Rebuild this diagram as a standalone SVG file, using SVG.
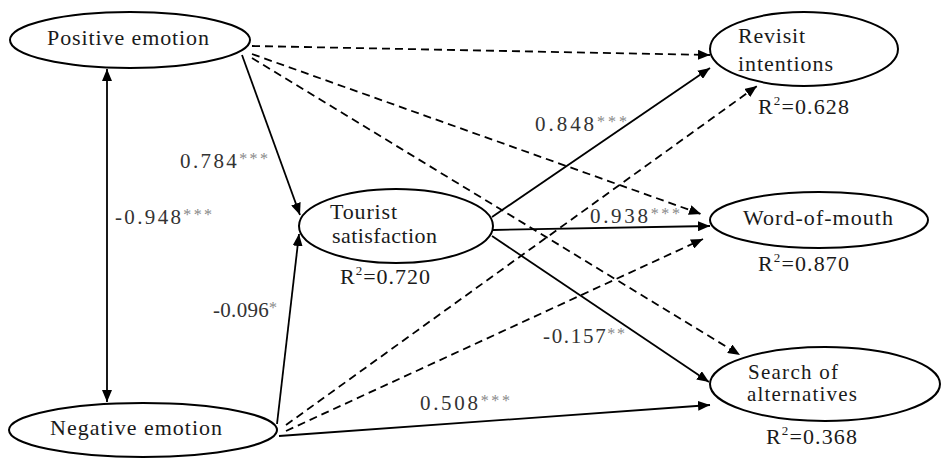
<svg xmlns="http://www.w3.org/2000/svg" width="942" height="458" viewBox="0 0 942 458">
<defs>
<marker id="ah" viewBox="0 0 12 10" refX="12" refY="5" markerWidth="12" markerHeight="10" markerUnits="userSpaceOnUse" orient="auto-start-reverse">
<path d="M0,0 L12,5 L0,10 z" fill="#000"/>
</marker>
<style>
.node ellipse{fill:#fff;stroke:#000;stroke-width:2}
.nt{font-family:"Liberation Serif","Times New Roman",serif;font-size:22px;fill:#1a1a1a}
.r2{font-family:"Liberation Serif","Times New Roman",serif;font-size:22px;fill:#1a1a1a}
.lb{font-family:"Liberation Serif","Times New Roman",serif;font-size:21px;fill:#333}
.st{fill:#888;font-size:16px}
.sol{fill:none;stroke:#000;stroke-width:1.8;marker-end:url(#ah)}
.dsh{fill:none;stroke:#000;stroke-width:1.8;stroke-dasharray:8 5;marker-end:url(#ah)}
</style>
</defs>
<rect width="942" height="458" fill="#fff"/>
<g id="connectors">
<line class="sol" x1="107" y1="69" x2="107" y2="402" style="marker-start:url(#ah)"/>
<line class="sol" x1="242" y1="55" x2="300" y2="215"/>
<line class="sol" x1="277" y1="424" x2="299" y2="234"/>
<line class="dsh" x1="252" y1="46" x2="710" y2="55"/>
<line class="dsh" x1="252" y1="54" x2="701" y2="214"/>
<line class="dsh" x1="252" y1="58" x2="740" y2="355"/>
<line class="sol" x1="492" y1="217" x2="710" y2="68"/>
<line class="sol" x1="493" y1="230" x2="710" y2="226"/>
<line class="sol" x1="492" y1="236" x2="709" y2="382"/>
<line class="sol" x1="279" y1="436" x2="710" y2="405"/>
<line class="dsh" x1="286" y1="425" x2="757" y2="86"/>
<line class="dsh" x1="286" y1="431" x2="703" y2="239"/>
</g>
<g id="positive-emotion" class="node">
<ellipse cx="130" cy="40" rx="120" ry="28"/>
<text class="nt" x="47" y="45" textLength="162" lengthAdjust="spacing">Positive emotion</text>
</g>
<g id="negative-emotion" class="node">
<ellipse cx="143" cy="430" rx="134" ry="27"/>
<text class="nt" x="50" y="435" textLength="172" lengthAdjust="spacing">Negative emotion</text>
</g>
<g id="tourist-satisfaction" class="node">
<ellipse cx="396" cy="226" rx="97" ry="37"/>
<text class="nt" x="330" y="219" textLength="67" lengthAdjust="spacing">Tourist</text>
<text class="nt" x="332" y="243" textLength="105" lengthAdjust="spacing">satisfaction</text>
<text class="r2" x="340" y="284" textLength="90" lengthAdjust="spacing">R<tspan dy="-9" font-size="13">2</tspan><tspan dy="9">=0.720</tspan></text>
</g>
<g id="revisit-intentions" class="node">
<ellipse cx="804" cy="49" rx="94" ry="37"/>
<text class="nt" x="738" y="43" textLength="67" lengthAdjust="spacing">Revisit</text>
<text class="nt" x="738" y="71" textLength="95" lengthAdjust="spacing">intentions</text>
<text class="r2" x="758" y="114" textLength="91" lengthAdjust="spacing">R<tspan dy="-9" font-size="13">2</tspan><tspan dy="9">=0.628</tspan></text>
</g>
<g id="word-of-mouth" class="node">
<ellipse cx="819" cy="220" rx="109" ry="28"/>
<text class="nt" x="743" y="225" textLength="150" lengthAdjust="spacing">Word-of-mouth</text>
<text class="r2" x="758" y="271" textLength="91" lengthAdjust="spacing">R<tspan dy="-9" font-size="13">2</tspan><tspan dy="9">=0.870</tspan></text>
</g>
<g id="search-of-alternatives" class="node">
<ellipse cx="825" cy="384" rx="115" ry="37"/>
<text class="nt" x="748" y="379" textLength="90" lengthAdjust="spacing" style="font-size:21px">Search of</text>
<text class="nt" x="747" y="401" textLength="110" lengthAdjust="spacing" style="font-size:21px">alternatives</text>
<text class="r2" x="766" y="444" textLength="91" lengthAdjust="spacing">R<tspan dy="-9" font-size="13">2</tspan><tspan dy="9">=0.368</tspan></text>
</g>
<g id="labels">
<text class="lb" x="115" y="224" textLength="97" lengthAdjust="spacing">-0.948<tspan class="st" dy="-4">***</tspan></text>
<text class="lb" x="180" y="168" textLength="88" lengthAdjust="spacing">0.784<tspan class="st" dy="-4">***</tspan></text>
<text class="lb" x="213" y="317" textLength="64" lengthAdjust="spacing">-0.096<tspan class="st" dy="-4">*</tspan></text>
<text class="lb" x="535" y="131" textLength="92" lengthAdjust="spacing">0.848<tspan class="st" dy="-4">***</tspan></text>
<text class="lb" x="590" y="223" textLength="90" lengthAdjust="spacing">0.938<tspan class="st" dy="-4">***</tspan></text>
<text class="lb" x="543" y="343" textLength="82" lengthAdjust="spacing">-0.157<tspan class="st" dy="-4">**</tspan></text>
<text class="lb" x="420" y="410" textLength="90" lengthAdjust="spacing">0.508<tspan class="st" dy="-4">***</tspan></text>
</g>
</svg>
